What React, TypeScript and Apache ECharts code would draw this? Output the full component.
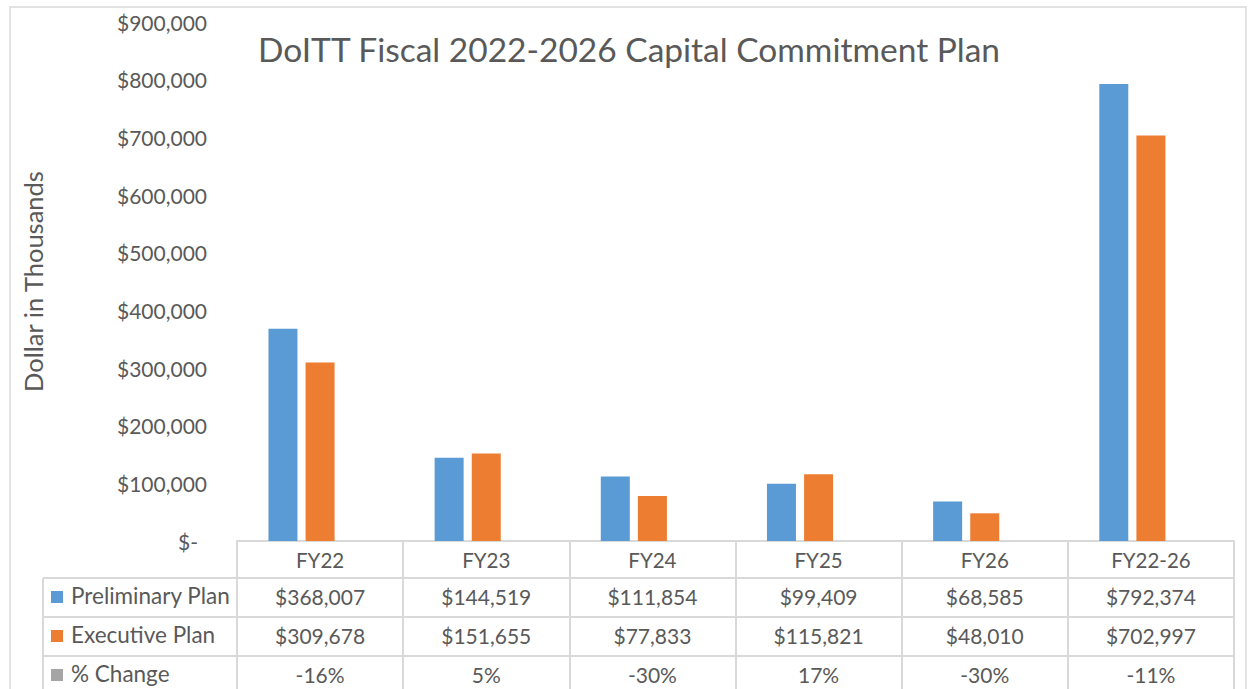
import React, { useEffect, useRef } from "react";
import * as echarts from "echarts";

const categories = ["FY22", "FY23", "FY24", "FY25", "FY26", "FY22-26"];
const preliminary = [368007, 144519, 111854, 99409, 68585, 792374];
const executive = [309678, 151655, 77833, 115821, 48010, 702997];
const pctChange = [-16, 5, -30, 17, -30, -11];
const seriesNames = ["Preliminary Plan", "Executive Plan", "% Change"];
const seriesColors = ["#5B9BD5", "#ED7D31", "#A5A5A5"];
const titleText = "DoITT Fiscal 2022-2026 Capital Commitment Plan";
const yAxisName = "Dollar in Thousands";
const yMax = 900000;
const yInterval = 100000;

const FONT = "Lato";
const TXT = "#595959";
const LINE = "#D9D9D9";

const fmtMoney = (v: number) => (v === 0 ? "$-" : "$" + v.toLocaleString("en-US"));
const fmtPct = (v: number) => v + "%";

const GRID_LEFT = 237;
const GRID_RIGHT_X = 1234;
const GRID_TOP = 22;
const AXIS_Y = 541;
const ROW_H = [37, 39, 39, 40];

export default function App() {
  const ref = useRef<HTMLDivElement>(null);
  useEffect(() => {
    if (!ref.current) return;
    const chart = echarts.init(ref.current, null, { renderer: "svg" });

    const rowOffsets = [0, ROW_H[0], ROW_H[0] + ROW_H[1], ROW_H[0] + ROW_H[1] + ROW_H[2]];
    const rowData = [
      categories,
      preliminary.map(fmtMoney),
      executive.map(fmtMoney),
      pctChange.map(fmtPct),
    ];

    const xAxes = rowData.map((d, i) => ({
      type: "category",
      data: d,
      position: "bottom",
      offset: rowOffsets[i],
      gridIndex: 0,
      axisLine: { show: true, lineStyle: { color: LINE, width: 2 } },
      axisTick: { show: true, interval: 0, length: ROW_H[i], lineStyle: { color: LINE, width: 2 } },
      axisLabel: {
        interval: 0,
        margin: 8,
        fontSize: i === 0 ? 20.5 : 21,
        color: TXT,
        fontFamily: FONT,
      },
      splitLine: { show: false },
    }));

    const graphic: any[] = [
      {
        type: "rect",
        shape: { x: 10, y: 7, width: 1236, height: 700 },
        style: { fill: "none", stroke: LINE, lineWidth: 1.5 },
        silent: true,
      },
      {
        type: "line",
        shape: { x1: 43, y1: 689 + 10, x2: 43, y2: AXIS_Y + rowOffsets[1] },
        style: { stroke: LINE, lineWidth: 2 },
      },
    ];
    for (let i = 1; i < 4; i++) {
      const y = AXIS_Y + rowOffsets[i];
      graphic.push({
        type: "line",
        shape: { x1: 43, y1: y, x2: GRID_LEFT, y2: y },
        style: { stroke: LINE, lineWidth: 2 },
      });
      const cy = y + 19;
      graphic.push({
        type: "rect",
        shape: { x: 51, y: cy - 6, width: 12, height: 12 },
        style: { fill: seriesColors[i - 1] },
      });
      graphic.push({
        type: "text",
        x: 71,
        y: cy - 2,
        style: {
          text: seriesNames[i - 1],
          fontSize: 22.5,
          fontFamily: FONT,
          fill: TXT,
          verticalAlign: "middle",
          align: "left",
        },
      });
    }

    chart.setOption({
      animation: false,
      backgroundColor: "#fff",
      title: {
        text: titleText,
        left: 624,
        top: 27,
        textAlign: "center",
        textStyle: { fontSize: 33.5, fontWeight: "normal", color: TXT, fontFamily: FONT },
      },
      grid: {
        left: GRID_LEFT,
        right: 1248 - GRID_RIGHT_X,
        top: GRID_TOP,
        bottom: 689 - AXIS_Y,
        containLabel: false,
      },
      xAxis: xAxes,
      yAxis: {
        type: "value",
        min: 0,
        max: yMax,
        interval: yInterval,
        name: yAxisName,
        nameLocation: "middle",
        nameRotate: 90,
        nameGap: 191,
        nameTextStyle: { fontSize: 25.5, color: TXT, fontFamily: FONT },
        axisLine: { show: false },
        axisTick: { show: false },
        splitLine: { show: false },
        axisLabel: {
          margin: 30,
          fontSize: 21,
          color: TXT,
          fontFamily: FONT,
          formatter: (v: number) => (v === 0 ? "{z|$-}" : fmtMoney(v)),
          rich: { z: { fontSize: 21, color: TXT, fontFamily: FONT, padding: [0, 9, 0, 0] } },
        },
      },
      graphic,
      series: [
        {
          name: seriesNames[0],
          type: "bar",
          data: preliminary,
          barWidth: 29,
          barGap: "28%",
          itemStyle: { color: seriesColors[0] },
        },
        {
          name: seriesNames[1],
          type: "bar",
          data: executive,
          barWidth: 29,
          barGap: "28%",
          itemStyle: { color: seriesColors[1] },
        },
        {
          name: seriesNames[2],
          type: "bar",
          data: pctChange.map((v) => v / 100),
          barWidth: 29,
          barGap: "28%",
          itemStyle: { color: seriesColors[2] },
        },
      ],
    });
    return () => chart.dispose();
  }, []);
  return (
    <div
      ref={ref}
      style={{ position: "absolute", left: 0, top: 0, width: 1248, height: 689 }}
    />
  );
}
